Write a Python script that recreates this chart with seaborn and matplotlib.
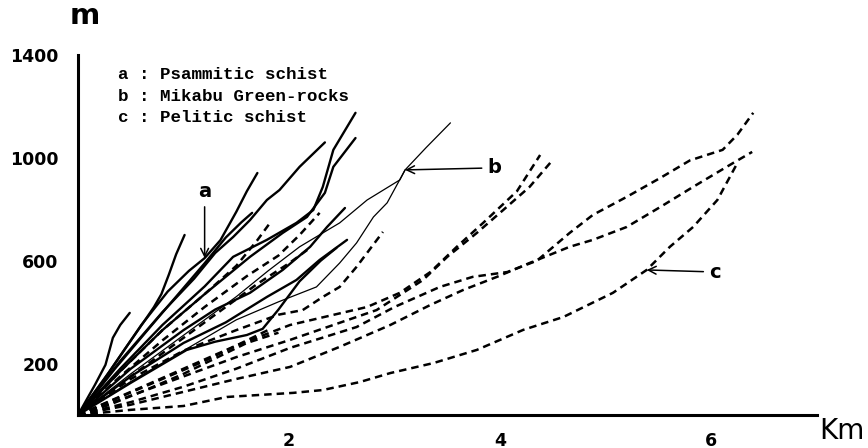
import matplotlib
matplotlib.use('Agg')
import matplotlib.pyplot as plt
import seaborn as sns
import pandas as pd

sns.set_theme(style='white')
plt.rcParams['font.family'] = ['DejaVu Sans']
plt.rcParams['text.color'] = 'black'
plt.rcParams['xtick.color'] = 'black'
plt.rcParams['ytick.color'] = 'black'
plt.rcParams['xtick.labelcolor'] = 'black'
plt.rcParams['ytick.labelcolor'] = 'black'

# ---- tick labels ----
x_ticks = [1, 2, 3, 4, 5, 6, 7]
x_tick_labels = ['', '2', '', '4', '', '6', '']
y_ticks = [200, 400, 600, 800, 1000, 1200, 1400]
y_tick_labels = ['200', '', '600', '', '1000', '', '1400']

legend_lines = ['a : Psammitic schist', 'b : Mikabu Green-rocks', 'c : Pelitic schist']

# ---- a : Psammitic schist (solid, thick) ----
a1_km = [0, 0.16, 0.26, 0.33, 0.40, 0.49]
a1_m = [0, 117, 195, 300, 350, 397]
a2_km = [0, 0.25, 0.45, 0.62, 0.72, 0.79, 0.86, 0.93, 1.01]
a2_m = [0, 140, 260, 360, 420, 470, 545, 625, 700]
a3_km = [0, 0.3, 0.6, 0.85, 1.05, 1.2, 1.35, 1.5, 1.6, 1.70]
a3_m = [0, 170, 350, 480, 560, 610, 680, 790, 870, 941]
a4_km = [0, 0.35, 0.7, 0.95, 1.2, 1.4, 1.55, 1.65]
a4_m = [0, 180, 350, 470, 590, 690, 750, 786]
a5_km = [0, 0.4, 0.8, 1.1, 1.3, 1.47, 1.63, 1.79, 1.91, 2.1, 2.34]
a5_m = [0, 210, 400, 530, 630, 692, 758, 836, 875, 965, 1060]
a6_km = [0, 0.4, 0.8, 1.2, 1.47, 1.79, 2.07, 2.23, 2.32, 2.42, 2.63]
a6_m = [0, 180, 350, 500, 615, 681, 747, 797, 887, 1031, 1175]
a7_km = [0, 0.4, 0.8, 1.2, 1.63, 1.94, 2.17, 2.34, 2.42, 2.63]
a7_m = [0, 170, 330, 470, 615, 708, 770, 864, 965, 1077]
a8_km = [0, 0.5, 1.0, 1.3, 1.63, 1.94, 2.20, 2.36, 2.53]
a8_m = [0, 180, 330, 410, 475, 564, 654, 731, 805]
a9_km = [0, 0.5, 1.0, 1.4, 1.79, 2.07, 2.29, 2.55]
a9_m = [0, 150, 280, 360, 459, 525, 603, 681]
a10_km = [0, 0.5, 1.03, 1.3, 1.6, 1.75, 1.9, 2.1, 2.3, 2.45]
a10_m = [0, 125, 253, 285, 311, 335, 410, 520, 600, 650]

# ---- b : Mikabu Green-rocks (solid, thin) ----
b1_km = [0, 0.5, 1.0, 1.5, 1.8, 2.10, 2.48, 2.74, 3.05, 3.10, 3.3, 3.53]
b1_m = [0, 160, 310, 460, 560, 654, 747, 836, 914, 953, 1040, 1136]
b2_km = [0, 0.5, 1.0, 1.5, 1.9, 2.26, 2.48, 2.64, 2.80, 2.93, 3.10]
b2_m = [0, 130, 250, 370, 440, 498, 591, 669, 770, 825, 953]

# ---- c : Pelitic schist (dashed) ----
c1_km = [0, 0.5, 1.0, 1.5, 2.01, 2.64, 3.0, 3.43, 3.74, 4.07, 4.35, 4.66, 4.88, 5.2, 5.52, 5.8, 6.11, 6.25, 6.40]
c1_m = [0, 50, 110, 180, 261, 342, 420, 498, 537, 556, 600, 708, 778, 848, 922, 990, 1031, 1090, 1175]
c2_km = [0, 0.5, 1.0, 1.5, 2.01, 2.48, 2.96, 3.34, 3.65, 3.97, 4.28, 4.66, 4.88, 5.2, 5.52, 5.83, 6.21, 6.39]
c2_m = [0, 40, 90, 140, 187, 265, 350, 428, 486, 537, 591, 654, 681, 731, 809, 887, 980, 1023]
c3_km = [0, 0.5, 1.0, 1.41, 2.04, 2.32, 2.67, 2.96, 3.37, 3.78, 4.22, 4.60, 5.07, 5.39, 5.61, 5.83, 6.06, 6.25]
c3_m = [0, 20, 35, 70, 86, 97, 128, 163, 202, 253, 331, 381, 475, 564, 654, 731, 836, 980]
c4_km = [0, 0.5, 1.0, 1.5, 2.01, 2.74, 3.05, 3.34, 3.59, 3.84, 4.16, 4.38]
c4_m = [0, 90, 180, 270, 350, 420, 475, 556, 654, 747, 870, 1011]
c5_km = [0, 0.5, 1.0, 1.5, 2.01, 2.83, 3.27, 3.50, 3.78, 4.03, 4.28, 4.50]
c5_m = [0, 75, 150, 225, 292, 408, 525, 615, 708, 797, 887, 992]
c6_km = [0, 0.4, 0.8, 1.2, 1.5, 1.7, 1.82]
c6_m = [0, 170, 330, 470, 580, 680, 747]
c7_km = [0, 0.4, 0.8, 1.2, 1.6, 1.9, 2.1, 2.29]
c7_m = [0, 150, 290, 420, 540, 620, 700, 786]
c8_km = [0, 0.5, 1.0, 1.5, 1.9, 2.13, 2.32, 2.48, 2.64, 2.89]
c8_m = [0, 140, 250, 330, 390, 408, 459, 498, 576, 712]
c9_km = [0, 0.5, 1.0, 1.4, 1.7, 2.0, 2.2]
c9_m = [0, 150, 300, 420, 510, 590, 650]
c10_km = [0, 0.4, 0.8, 1.2, 1.5, 1.8]
c10_m = [0, 70, 140, 210, 270, 330]
c11_km = [0, 0.3, 0.6, 1.0, 1.3, 1.6, 1.9]
c11_m = [0, 40, 90, 160, 220, 280, 320]

curves = [
    ('a', 'a1', a1_km, a1_m), ('a', 'a2', a2_km, a2_m), ('a', 'a3', a3_km, a3_m),
    ('a', 'a4', a4_km, a4_m), ('a', 'a5', a5_km, a5_m), ('a', 'a6', a6_km, a6_m),
    ('a', 'a7', a7_km, a7_m), ('a', 'a8', a8_km, a8_m), ('a', 'a9', a9_km, a9_m),
    ('a', 'a10', a10_km, a10_m),
    ('b', 'b1', b1_km, b1_m), ('b', 'b2', b2_km, b2_m),
    ('c', 'c1', c1_km, c1_m), ('c', 'c2', c2_km, c2_m), ('c', 'c3', c3_km, c3_m),
    ('c', 'c4', c4_km, c4_m), ('c', 'c5', c5_km, c5_m), ('c', 'c6', c6_km, c6_m),
    ('c', 'c7', c7_km, c7_m), ('c', 'c8', c8_km, c8_m), ('c', 'c9', c9_km, c9_m),
    ('c', 'c10', c10_km, c10_m), ('c', 'c11', c11_km, c11_m),
]

rows = []
for g, name, xs, ys in curves:
    for x, y in zip(xs, ys):
        rows.append({'group': g, 'curve': name, 'km': x, 'm': y})
df = pd.DataFrame(rows)

fig = plt.figure(figsize=(8.68, 4.48), dpi=100)
ax = fig.add_axes([0.0899, 0.0737, 0.8508, 0.8036])

sns.lineplot(data=df, x='km', y='m', units='curve', estimator=None, sort=False,
             style='group', dashes={'a': '', 'b': '', 'c': (3, 2)},
             size='group', sizes={'a': 1.7, 'b': 0.9, 'c': 1.8},
             color='black', legend=False, ax=ax)
for ln in ax.lines:
    ln.set_solid_joinstyle('round')
    ln.set_solid_capstyle('round')

ax.set_xlim(0, 7)
ax.set_ylim(0, 1400)
ax.set_xticks(x_ticks)
ax.set_xticklabels(x_tick_labels)
ax.set_yticks(y_ticks)
ax.set_yticklabels(y_tick_labels)
ax.set_xlabel('')
ax.set_ylabel('')
ax.tick_params(axis='both', direction='in', length=5, width=2, colors='black',
               labelcolor='black', labelsize=12.5)
ax.tick_params(axis='x', pad=12)
ax.tick_params(axis='y', pad=14)
for lab in ax.get_xticklabels() + ax.get_yticklabels():
    lab.set_fontweight('bold')
    lab.set_color('black')
for s in ['top', 'right']:
    ax.spines[s].set_visible(False)
for s in ['left', 'bottom']:
    ax.spines[s].set_linewidth(2.2)
    ax.spines[s].set_color('black')
ax.patch.set_alpha(0)

fig.text(0.098, 0.965, 'm', fontsize=21, ha='center', va='center', fontweight='bold',
         color='black')
fig.text(0.970, 0.038, 'Km', fontsize=20, ha='center', va='center', color='black')

for i, t in enumerate(legend_lines):
    fig.text(0.136, 0.833 - i * 0.048, t, fontsize=12.6, family='Liberation Mono',
             fontweight='bold', ha='left', va='center', color='black')

arrow = dict(arrowstyle='->', lw=1.1, color='black', shrinkA=2, shrinkB=0)
ax.annotate('a', xy=(1.20, 611), xytext=(1.20, 870), fontsize=14, fontweight='bold',
            ha='center', va='center', color='black', arrowprops=arrow)
ax.annotate('b', xy=(3.10, 953), xytext=(3.95, 961), fontsize=14, fontweight='bold',
            ha='center', va='center', color='black', arrowprops=arrow)
ax.annotate('c', xy=(5.39, 564), xytext=(6.04, 556), fontsize=14, fontweight='bold',
            ha='center', va='center', color='black', arrowprops=arrow)

fig.savefig('out.png', dpi=100, facecolor='white')
